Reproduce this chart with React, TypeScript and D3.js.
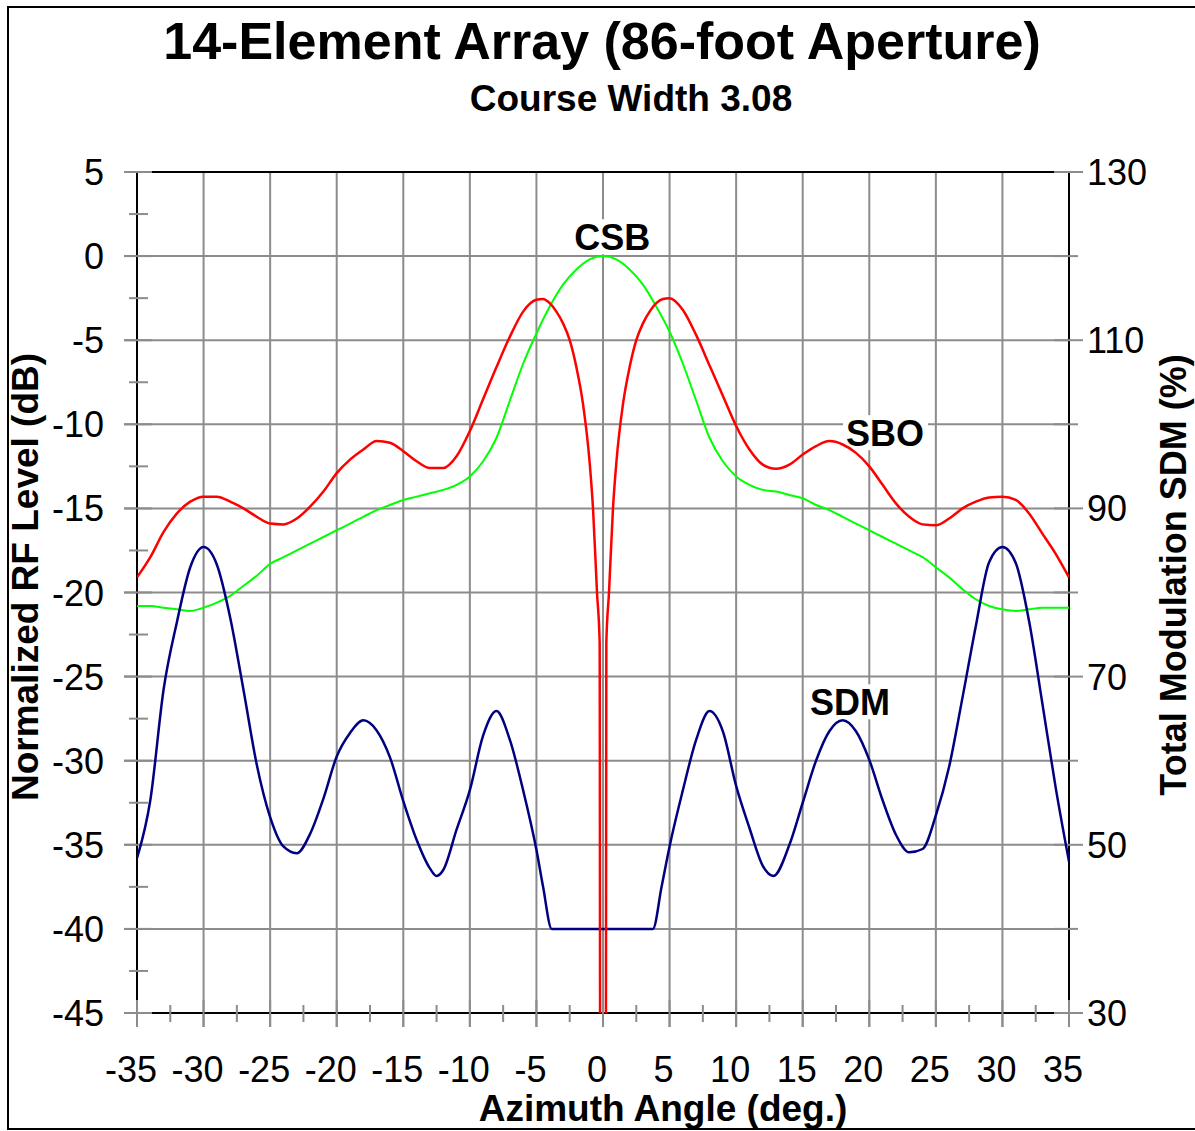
import React from 'react';
import * as d3 from 'd3';

const W = 1195;
const H = 1131;

const title = '14-Element Array (86-foot Aperture)';
const subtitle = 'Course Width 3.08';
const xTitle = 'Azimuth Angle (deg.)';
const yTitle = 'Normalized RF Level (dB)';
const y2Title = 'Total Modulation SDM (%)';

const xTicks = [-35, -30, -25, -20, -15, -10, -5, 0, 5, 10, 15, 20, 25, 30, 35];
const xMinorTicks = [-32.5, -27.5, -22.5, -17.5, -12.5, -7.5, -2.5, 2.5, 7.5, 12.5, 17.5, 22.5, 27.5, 32.5];
const yTicks = [-45, -40, -35, -30, -25, -20, -15, -10, -5, 0, 5];
const yMinorTicks = [-42.5, -37.5, -32.5, -27.5, -22.5, -17.5, -12.5, -7.5, -2.5, 2.5];
const y2Ticks = [30, 40, 50, 60, 70, 80, 90, 100, 110, 120, 130];
const y2Labels = [30, 50, 70, 90, 110, 130];

// CSB (green), dB
const csbAngle = [
  -35, -34, -33, -32, -31, -30, -29, -28, -27, -26,
  -25, -24, -23, -22, -21, -20, -19, -18, -17, -16,
  -15, -14, -13, -12, -11, -10, -9, -8, -7, -6,
  -5, -4, -3, -2, -1, 0,
  1, 2, 3, 4, 5, 6, 7, 8, 9, 10,
  11, 12, 13, 14, 15, 16, 17, 18, 19, 20,
  21, 22, 23, 24, 25, 26, 27, 28, 29, 30,
  31, 32, 33, 34, 35,
];
const csbDb = [
  -20.8, -20.8, -20.9, -21.0, -21.1, -20.9, -20.6, -20.2, -19.6, -19.0,
  -18.3, -17.9, -17.5, -17.1, -16.7, -16.3, -15.9, -15.5, -15.1, -14.8,
  -14.5, -14.3, -14.1, -13.9, -13.6, -13.1, -12.2, -10.8, -8.6, -6.4,
  -4.6, -3.0, -1.7, -0.8, -0.2, 0,
  -0.2, -0.8, -1.7, -3.0, -4.5, -6.4, -8.6, -10.8, -12.2, -13.1,
  -13.6, -13.9, -14.0, -14.2, -14.4, -14.8, -15.1, -15.5, -15.9, -16.3,
  -16.7, -17.1, -17.5, -17.9, -18.5, -19.1, -19.8, -20.4, -20.8, -21.0,
  -21.1, -21.0, -20.9, -20.9, -20.9,
];

// SBO (red), dB
const sboAngle = [
  -35, -34, -33, -32, -31, -30, -29, -28, -27, -26,
  -25, -24, -23, -22, -21, -20, -19, -18, -17, -16,
  -15, -14, -13, -12, -11, -10, -9, -8, -7, -6,
  -5, -4.5, -4, -3.5, -3, -2.5, -2, -1.5, -1, -0.75,
  -0.45, -0.25, -0.2, 0.2, 0.25, 0.45,
  0.75, 1, 1.5, 2, 2.5, 3, 3.5, 4, 4.5, 5,
  6, 7, 8, 9, 10, 11, 12, 13, 14, 15,
  16, 17, 18, 19, 20, 21, 22, 23, 24, 25,
  26, 27, 28, 29, 30, 31, 32, 33, 34, 35,
];
const sboDb = [
  -19.1, -17.9, -16.4, -15.3, -14.6, -14.3, -14.3, -14.6, -15.0, -15.5,
  -15.9, -15.95, -15.6, -14.9, -14.0, -12.9, -12.1, -11.5, -11.0, -11.1,
  -11.6, -12.2, -12.6, -12.6, -11.9, -10.4, -8.5, -6.6, -4.8, -3.3,
  -2.6, -2.55, -2.8, -3.3, -4.0, -5.0, -6.6, -8.8, -12.3, -15.0,
  -20.0, -23.0, -60, -60, -23.0, -20.0,
  -15.0, -12.3, -8.8, -6.6, -5.0, -4.0, -3.3, -2.8, -2.55, -2.5,
  -3.2, -4.7, -6.5, -8.3, -10.1, -11.5, -12.4, -12.65, -12.4, -11.8,
  -11.3, -11.0, -11.2, -11.7, -12.5, -13.6, -14.7, -15.5, -15.95, -16.0,
  -15.6, -15.0, -14.6, -14.35, -14.3, -14.5, -15.3, -16.5, -17.7, -19.1,
];

// SDM (navy), % on right axis
const sdmAngle = [
  -35, -34, -33, -32, -31, -30, -29, -28, -27, -26,
  -25, -24, -23, -22, -21, -20, -19, -18, -17, -16,
  -15, -14, -13, -12.5, -12, -11, -10, -9, -8, -7,
  -6, -5, -4.5, -3.85, 3.75, 4.4, 5, 6, 7, 8,
  9, 10, 11, 12, 12.8, 14, 15, 16, 17, 18,
  19, 20, 21, 22, 23, 24, 25, 26, 27, 28,
  29, 30, 31, 32, 33, 34, 35,
];
const sdmPct = [
  48.4, 55.3, 68.5, 76.5, 83.0, 85.4, 83.3, 77.0, 68.4, 59.5,
  53.3, 49.8, 49.0, 51.3, 55.5, 60.5, 63.3, 64.8, 63.6, 60.4,
  55.2, 50.6, 47.2, 46.3, 47.0, 51.8, 56.5, 63.0, 65.9, 62.5,
  56.5, 49.4, 45.0, 40.0, 40.0, 45.0, 49.8, 56.5, 62.5, 65.9,
  63.5, 57.0, 52.0, 47.5, 46.3, 50.0, 55.0, 60.0, 63.5, 64.8,
  63.5, 60.1, 55.3, 51.2, 49.1, 49.5, 53.5, 59.3, 67.5, 76.0,
  83.6, 85.4, 83.5, 76.6, 66.8, 56.8, 48.0,
];

const FONT = '"Liberation Sans", Arial, Helvetica, sans-serif';
const GRID = '#8c8c8c';

export default function App() {
  const x0 = 137, x1 = 1069, yTop = 172, yBot = 1013;
  const x = d3.scaleLinear().domain([-35, 35]).range([x0, x1]);
  const y = d3.scaleLinear().domain([-45, 5]).range([yBot, yTop]);
  const y2 = d3.scaleLinear().domain([30, 130]).range([yBot, yTop]);

  const lineDb = d3.line<[number, number]>()
    .x((d) => x(d[0]))
    .y((d) => y(d[1]))
    .curve(d3.curveMonotoneX);
  const linePct = d3.line<[number, number]>()
    .x((d) => x(d[0]))
    .y((d) => y2(d[1]))
    .curve(d3.curveMonotoneX);

  const csb = csbAngle.map((a, i) => [a, csbDb[i]] as [number, number]);
  const sbo = sboAngle.map((a, i) => [a, sboDb[i]] as [number, number]);
  const sdm = sdmAngle.map((a, i) => [a, sdmPct[i]] as [number, number]);

  const labels = [
    { text: 'CSB', ax: 0.7, db: 0.35, w: 77, anchor: 'middle' },
    { text: 'SBO', ax: 18.25, db: -11.3, w: 79, anchor: 'start' },
    { text: 'SDM', ax: 15.55, db: -27.3, w: 83, anchor: 'start' },
  ];

  return (
    <svg
      width={W}
      height={H}
      style={{ position: 'absolute', left: 0, top: 0, background: '#fff' }}
      fontFamily={FONT}
    >
      <rect x={0} y={0} width={W} height={H} fill="#fff" />
      {/* outer frame */}
      <rect x={8} y={7} width={W + 10} height={1122} fill="none" stroke="#000" strokeWidth={2} />

      {/* titles */}
      <text x={602} y={59} textAnchor="middle" fontSize={52} fontWeight="bold">{title}</text>
      <text x={631} y={111} textAnchor="middle" fontSize={37} fontWeight="bold">{subtitle}</text>

      {/* grid */}
      {yTicks.map((t) => (
        <line key={'gy' + t} x1={x0 - 13} x2={x1} y1={y(t)} y2={y(t)} stroke={GRID} strokeWidth={2} />
      ))}
      {xTicks.map((t) => (
        <line key={'gx' + t} x1={x(t)} x2={x(t)} y1={yTop} y2={yBot + 14} stroke={GRID} strokeWidth={2} />
      ))}

      {/* black frame of plot */}
      <rect x={x0} y={yTop} width={x1 - x0} height={yBot - yTop} fill="none" stroke="#000" strokeWidth={2} />

      {/* ticks */}
      {yTicks.map((t) => (
        <line key={'ty' + t} x1={x0 - 13} x2={x0 + 15} y1={y(t)} y2={y(t)} stroke={GRID} strokeWidth={2} />
      ))}
      {yMinorTicks.map((t) => (
        <line key={'tym' + t} x1={x0 - 8} x2={x0 + 11} y1={y(t)} y2={y(t)} stroke={GRID} strokeWidth={2} />
      ))}
      {xTicks.map((t) => (
        <line key={'tx' + t} x1={x(t)} x2={x(t)} y1={yBot - 13} y2={yBot + 14} stroke={GRID} strokeWidth={2} />
      ))}
      {xMinorTicks.map((t) => (
        <line key={'txm' + t} x1={x(t)} x2={x(t)} y1={yBot - 8} y2={yBot + 9} stroke={GRID} strokeWidth={2} />
      ))}
      {y2Ticks.map((t) => (
        <line
          key={'ty2' + t}
          x1={x1 - 15}
          x2={y2Labels.includes(t) ? x1 + 14 : x1 + 9}
          y1={y2(t)}
          y2={y2(t)}
          stroke={GRID}
          strokeWidth={2}
        />
      ))}

      {/* tick labels */}
      {yTicks.map((t) => (
        <text key={'ly' + t} x={104} y={y(t) + 13} textAnchor="end" fontSize={36}>{t}</text>
      ))}
      {xTicks.map((t) => (
        <text key={'lx' + t} x={x(t) - 6} y={1082} textAnchor="middle" fontSize={36}>{t}</text>
      ))}
      {y2Labels.map((t) => (
        <text key={'ly2' + t} x={1087} y={y2(t) + 13} textAnchor="start" fontSize={36}>{t}</text>
      ))}

      {/* axis titles */}
      <text x={663} y={1121} textAnchor="middle" fontSize={37} fontWeight="bold">{xTitle}</text>
      <text transform="translate(38,577) rotate(-90)" textAnchor="middle" fontSize={37} fontWeight="bold">{yTitle}</text>
      <text transform="translate(1186,575) rotate(-90)" textAnchor="middle" fontSize={36} fontWeight="bold">{y2Title}</text>

      <defs>
        <clipPath id="plotclip">
          <rect x={x0} y={yTop} width={x1 - x0} height={yBot - yTop} />
        </clipPath>
      </defs>

      {/* series labels with white boxes */}
      {labels.map((l) => {
        const px = x(l.ax);
        const py = y(l.db);
        const left = l.anchor === 'middle' ? px - l.w / 2 : px;
        return (
          <g key={l.text}>
            <rect x={left - 3} y={py - 31} width={l.w + 6} height={35} fill="#fff" />
            <text x={px} y={py} textAnchor={l.anchor as any} fontSize={36} fontWeight="bold">{l.text}</text>
          </g>
        );
      })}

      <g clipPath="url(#plotclip)" fill="none" strokeLinejoin="round">
        <path d={lineDb(csb) || ''} stroke="#00ff00" strokeWidth={2} />
        <path d={linePct(sdm) || ''} stroke="#000080" strokeWidth={2.5} />
        <path d={lineDb(sbo) || ''} stroke="#ff0000" strokeWidth={2.5} />
      </g>
    </svg>
  );
}
